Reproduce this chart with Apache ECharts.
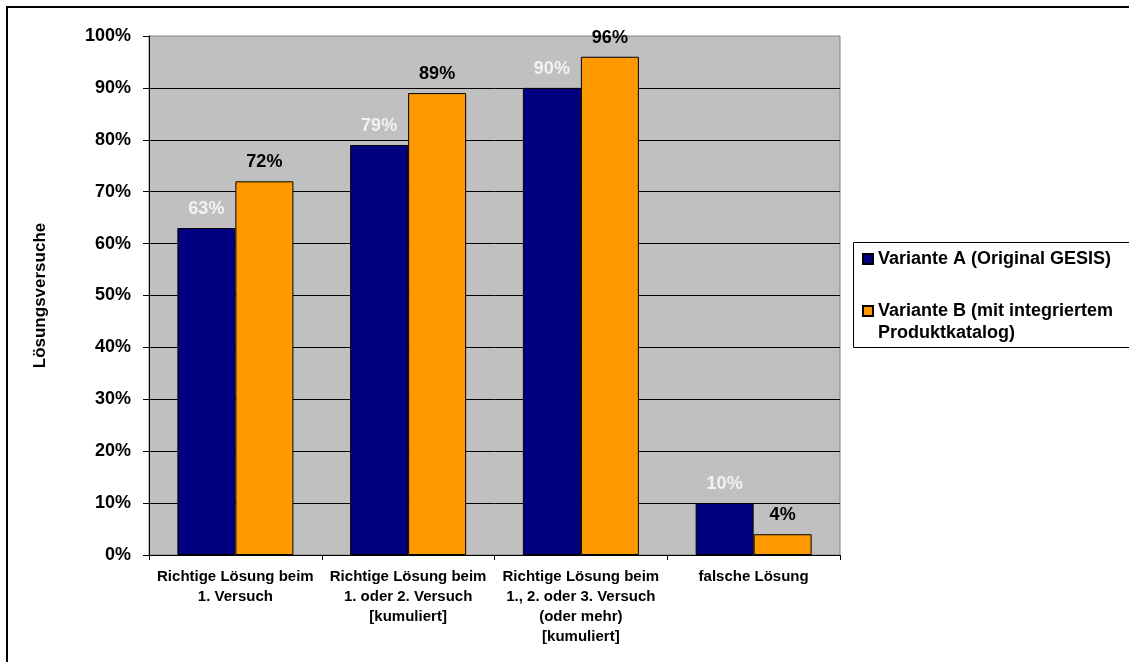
<!DOCTYPE html>
<html>
<head>
<meta charset="utf-8">
<script src="https://cdn.jsdelivr.net/npm/echarts@6/dist/echarts.min.js"></script>
<style>html,body{margin:0;padding:0;background:#fff;}#c{width:1129px;height:662px;}</style>
</head>
<body>
<div id="c"></div>
<script>
const categories = [
  'Richtige Lösung beim\n1. Versuch',
  'Richtige Lösung beim\n1. oder 2. Versuch\n[kumuliert]',
  'Richtige Lösung beim\n1., 2. oder 3. Versuch\n(oder mehr)\n[kumuliert]',
  'falsche Lösung'
];
const seriesNames = ['Variante A (Original GESIS)', 'Variante B (mit integriertem Produktkatalog)'];
const valuesA = [63, 79, 90, 10];
const valuesB = [72, 89, 96, 4];
const yMin = 0, yMax = 100, yStep = 10;
const axisName = 'Lösungsversuche';

const FONT = '"Liberation Sans", Arial, sans-serif';
const chart = echarts.init(document.getElementById('c'), null, {renderer: 'canvas'});
chart.setOption({
  backgroundColor: '#fff',
  animation: false,
  textStyle: {fontFamily: FONT},
  graphic: [
    {type: 'rect', shape: {x: 7, y: 7, width: 1200, height: 700}, style: {fill: 'none', stroke: '#000', lineWidth: 2}, z: 0},
    {type: 'rect', shape: {x: 853.5, y: 242.5, width: 400, height: 105}, style: {fill: '#fff', stroke: '#000', lineWidth: 1}, z: 0}
  ],
  legend: {
    orient: 'vertical',
    left: 857,
    top: 243,
    itemWidth: 10,
    itemHeight: 10,
    itemGap: 8,
    icon: 'rect',
    data: [seriesNames[0], seriesNames[1]],
    formatter: function (n) { return n === seriesNames[1] ? '\nVariante B (mit integriertem\nProduktkatalog)' : n; },
    textStyle: {fontFamily: FONT, fontWeight: 'bold', fontSize: 18, color: '#000', lineHeight: 22}
  },
  grid: {left: 149, right: 289, top: 36, bottom: 107, show: true, backgroundColor: '#C0C0C0', borderColor: '#808080', borderWidth: 1},
  xAxis: {
    type: 'category',
    data: categories,
    axisLine: {lineStyle: {color: '#000', width: 1}},
    axisTick: {show: true, length: 5, lineStyle: {color: '#000'}},
    axisLabel: {interval: 0, margin: 12, color: '#000', fontFamily: FONT, fontWeight: 'bold', fontSize: 15, lineHeight: 20}
  },
  yAxis: {
    type: 'value',
    min: yMin, max: yMax, interval: yStep,
    name: axisName,
    nameLocation: 'middle',
    nameGap: 100,
    nameTextStyle: {fontFamily: FONT, fontWeight: 'bold', fontSize: 17, color: '#000'},
    axisLine: {show: true, lineStyle: {color: '#000', width: 1}},
    axisTick: {show: true, length: 6, lineStyle: {color: '#000'}},
    axisLabel: {margin: 18, color: '#000', fontFamily: FONT, fontWeight: 'bold', fontSize: 18, formatter: '{value}%'},
    splitLine: {show: true, showMaxLine: false, lineStyle: {color: '#000', width: 1}}
  },
  series: [
    {
      name: seriesNames[0], type: 'bar', data: valuesA, barWidth: 58, barGap: '0%',
      itemStyle: {color: '#000080', borderColor: '#000', borderWidth: 1},
      label: {show: true, position: 'top', distance: 10, formatter: '{c}%', color: '#F2F2F2', fontFamily: FONT, fontWeight: 'bold', fontSize: 18}
    },
    {
      name: seriesNames[1], type: 'bar', data: valuesB, barWidth: 58, barGap: '0%',
      itemStyle: {color: '#FF9900', borderColor: '#000', borderWidth: 1},
      label: {show: true, position: 'top', distance: 10, formatter: '{c}%', color: '#000', fontFamily: FONT, fontWeight: 'bold', fontSize: 18}
    }
  ]
});
</script>
</body>
</html>
